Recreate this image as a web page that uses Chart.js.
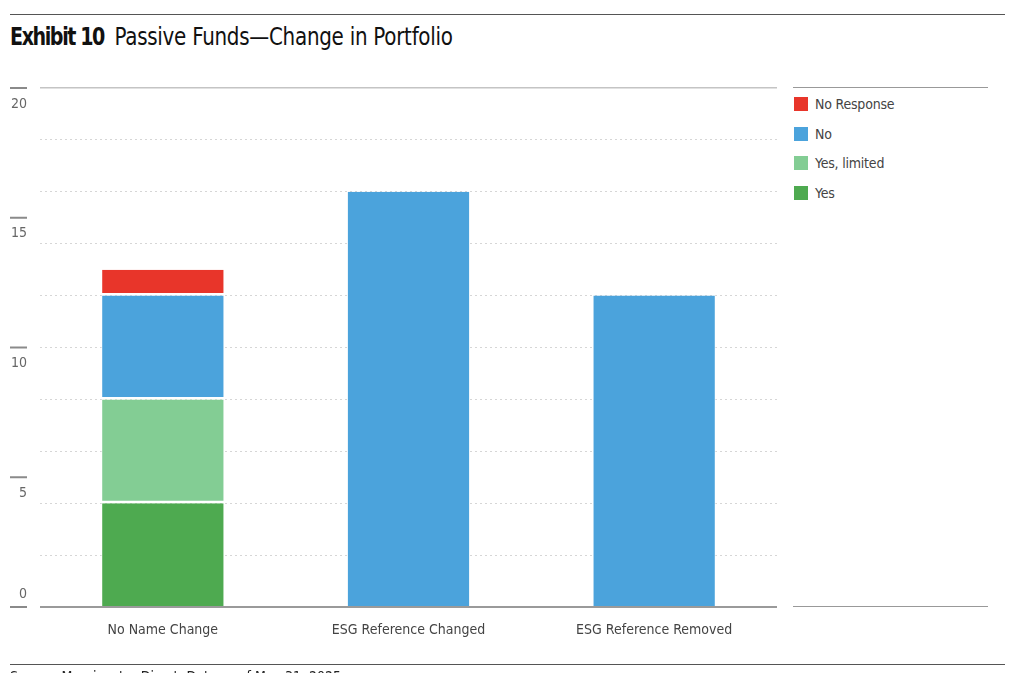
<!DOCTYPE html>
<html lang="en">
<head>
    <meta charset="UTF-8">
    <title>Passive Funds — Change in Portfolio</title>
    <script src="https://cdn.jsdelivr.net/npm/chart.js"></script>
    <style>
        body {
            margin: 0;
            width: 1024px;
            height: 673px;
            overflow: hidden;
            background: #ffffff;
            font-family: 'Liberation Sans Narrow', 'DejaVu Sans Condensed', Roboto, sans-serif;
            position: relative;
        }
        .rule { position: absolute; left: 10px; width: 995px; height: 0; border-top: 1.5px solid #555; }
        .title { position: absolute; left: 10px; top: 22px; font-size: 25px; color: #111; white-space: nowrap; letter-spacing: -0.3px; transform: scaleX(0.885); transform-origin: left top; }
        .title b { margin-right: 5px; letter-spacing: -1.6px; font-size: 24px; }
        .chart-box { position: absolute; left: 0; top: 0; width: 790px; height: 673px; }
        .legend-line { position: absolute; left: 793px; width: 195px; height: 0; border-top: 1.5px solid #999; }
        #legend { position: absolute; left: 794px; top: 96px; list-style: none; margin: 0; padding: 0; }
        #legend li { height: 29.5px; font-size: 14px; color: #444; display: flex; align-items: flex-start; letter-spacing: -0.2px; }
        #legend span { display: inline-block; width: 14px; height: 14px; margin-right: 7px; margin-top: 1px; }
        .source { position: absolute; left: 10px; top: 668px; font-size: 14px; color: #222; }
    </style>
</head>
<body>
    <div class="rule" style="top:14px"></div>
    <div class="title"><b>Exhibit 10</b> Passive Funds—Change in Portfolio</div>
    <div class="chart-box"><canvas id="chart"></canvas></div>
    <div class="legend-line" style="top:87px"></div>
    <ul id="legend"></ul>
    <div class="legend-line" style="top:606px"></div>
    <div class="rule" style="top:664px"></div>
    <div class="source">Source: Morningstar Direct. Data as of May 31, 2025.</div>
    <script>
        const categories = ['No Name Change', 'ESG Reference Changed', 'ESG Reference Removed'];
        const seriesNames = ['Yes', 'Yes, limited', 'No', 'No Response'];
        const yesValues = [4, 0, 0];
        const yesLimitedValues = [4, 0, 0];
        const noValues = [4, 16, 12];
        const noResponseValues = [1, 0, 0];
        const yTickLabels = [0, 5, 10, 15, 20];

        const colors = ['#4eaa50', '#83cd94', '#4ba3dc', '#e8352a'];
        const allValues = [yesValues, yesLimitedValues, noValues, noResponseValues];
        const FONT = "'Liberation Sans Narrow', 'DejaVu Sans Condensed', Roboto, sans-serif";

        // legend, top entry = last series
        const legend = document.getElementById('legend');
        for (let i = seriesNames.length - 1; i >= 0; i--) {
            const li = document.createElement('li');
            li.innerHTML = `<span style="background:${colors[i]}"></span>${seriesNames[i]}`;
            legend.appendChild(li);
        }

        // white gap under a segment only when something sits below it
        function segBorder(c) {
            if (!c.raw) return 0;
            let below = false;
            for (let d = 0; d < c.datasetIndex; d++) if (allValues[d][c.dataIndex]) below = true;
            return { top: 0, left: 0.8, right: 0.8, bottom: below ? 2.5 : 0 };
        }

        // y labels: a short dash at the value, number under it (above it for 0)
        const yLabelPlugin = {
            id: 'yLabels',
            afterDraw(chart) {
                const ctx = chart.ctx;
                const y = chart.scales.y;
                ctx.save();
                ctx.font = '14px ' + FONT;
                ctx.fillStyle = '#666';
                ctx.textAlign = 'right';
                ctx.textBaseline = 'middle';
                ctx.strokeStyle = '#8a8a8a';
                ctx.lineWidth = 2;
                yTickLabels.forEach(v => {
                    const py = y.getPixelForValue(v);
                    ctx.beginPath();
                    ctx.moveTo(10, py);
                    ctx.lineTo(27, py);
                    ctx.stroke();
                    ctx.fillText(String(v), 27, v === 0 ? py - 13 : py + 16);
                });
                ctx.restore();
            }
        };

        new Chart(document.getElementById('chart'), {
            type: 'bar',
            data: {
                labels: categories,
                datasets: seriesNames.map((name, i) => ({
                    label: name,
                    data: allValues[i],
                    backgroundColor: colors[i],
                    borderColor: '#ffffff',
                    borderWidth: segBorder,
                    borderSkipped: false,
                    barPercentage: 0.5,
                    categoryPercentage: 1
                }))
            },
            options: {
                responsive: true,
                maintainAspectRatio: false,
                animation: false,
                layout: { padding: { left: 40, right: 13, top: 88, bottom: 26 } },
                plugins: { legend: { display: false }, tooltip: { enabled: false } },
                scales: {
                    x: {
                        stacked: true,
                        grid: { display: false },
                        border: { display: false },
                        ticks: { color: '#444', font: { family: FONT, size: 14 }, padding: 7 },
                        afterFit: s => { s.height = 40; }
                    },
                    y: {
                        stacked: true,
                        min: 0,
                        max: 20,
                        ticks: { display: false, stepSize: 2 },
                        afterFit: s => { s.width = 0; },
                        border: {
                            display: false,
                            dash: c => (c.tick && (c.tick.value === 0 || c.tick.value === 20) ? [] : [2, 3])
                        },
                        grid: {
                            drawTicks: false,
                            color: c => (c.tick.value === 0 ? '#9a9a9a' : c.tick.value === 20 ? '#c4c4c4' : '#d6d6d6'),
                            lineWidth: c => (c.tick.value === 0 ? 2 : c.tick.value === 20 ? 1.5 : 1)
                        }
                    }
                }
            },
            plugins: [yLabelPlugin]
        });
    </script>
</body>
</html>
